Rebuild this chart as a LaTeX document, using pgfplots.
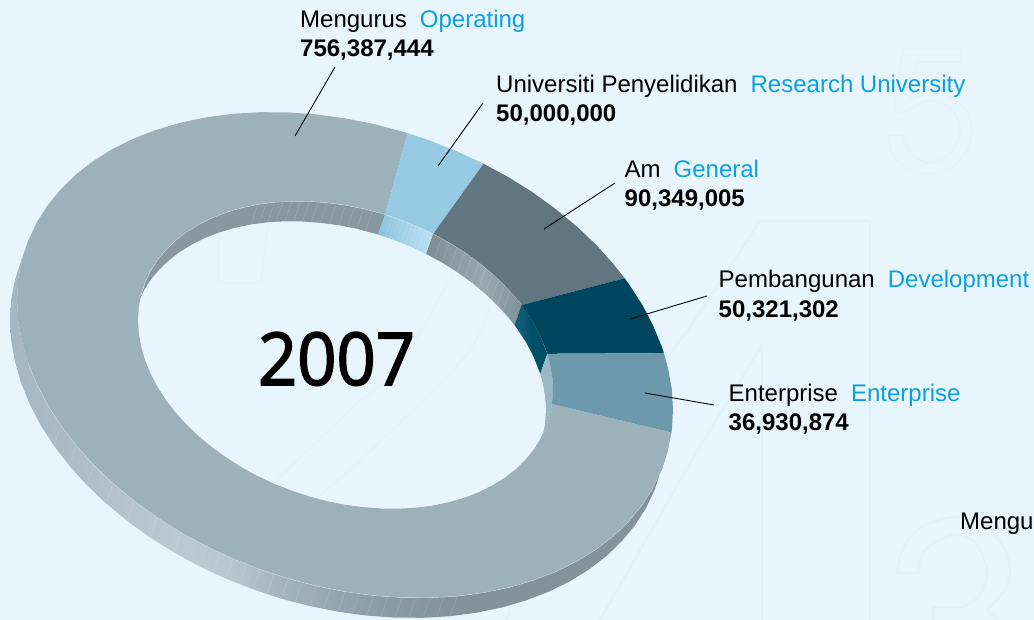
\documentclass[border=0pt]{standalone}
\usepackage{pgfplots}
\pgfplotsset{compat=1.18}
\usepackage{fontspec}
\setmainfont{Liberation Sans}
\newfontfamily\yearfont{Open Sans}[FakeBold=2.2]
\definecolor{bgc}{HTML}{E9F5FC}
\definecolor{digit}{HTML}{E2F2FB}
\definecolor{opc}{HTML}{9DB1BA}
\definecolor{resc}{HTML}{96CAE3}
\definecolor{genc}{HTML}{627681}
\definecolor{devc}{HTML}{01465F}
\definecolor{entc}{HTML}{6E98AB}
\definecolor{blu}{HTML}{0BA0E3}
\definecolor{a1}{HTML}{A5B7C1}\definecolor{a2}{HTML}{A9BAC4}\definecolor{a3}{HTML}{B5C4CE}\definecolor{a4}{HTML}{BBC9D2}\definecolor{a5}{HTML}{B8C6CF}\definecolor{a6}{HTML}{A4B5BF}\definecolor{a7}{HTML}{93A5AF}\definecolor{a8}{HTML}{8799A2}\definecolor{a9}{HTML}{82939C}
\definecolor{r1}{HTML}{8CC3DE}\definecolor{r2}{HTML}{BBE2F4}
\definecolor{g1}{HTML}{7B8C94}\definecolor{g2}{HTML}{99A9B1}\definecolor{g3}{HTML}{7E8F97}
\definecolor{d1}{HTML}{125B75}\definecolor{d2}{HTML}{01506A}
\pgfdeclarehorizontalshading{outerwall}{100bp}{color(0bp)=(a1);color(25bp)=(a1);color(28bp)=(a2);color(34bp)=(a3);color(38.7bp)=(a4);color(41.7bp)=(a5);color(45.5bp)=(a6);color(50bp)=(a7);color(54.6bp)=(a8);color(58.4bp)=(a9);color(100bp)=(a9)}
\pgfdeclarehorizontalshading{reswall}{100bp}{color(0bp)=(r1);color(25bp)=(r1);color(75bp)=(r2);color(100bp)=(r2)}
\pgfdeclarehorizontalshading{genwall}{100bp}{color(0bp)=(g1);color(25bp)=(g1);color(55bp)=(g2);color(75bp)=(g3);color(100bp)=(g3)}
\pgfdeclarehorizontalshading{devwall}{100bp}{color(0bp)=(d1);color(35bp)=(d1);color(50bp)=(d2);color(100bp)=(d2)}
\begin{document}
\begin{tikzpicture}[x=1bp,y=1bp]
\clip (0,0) rectangle (1034,620);
\fill[bgc] (0,0) rectangle (1034,620);
\begin{axis}[at={(0,0)},anchor=south west,scale only axis,width=1034bp,height=620bp,
  xmin=0,xmax=1034,ymin=0,ymax=620,y dir=reverse,hide axis,no markers,unbounded coords=jump]
% faint background digits
\addplot[digit,line width=1pt] coordinates {(903,49)(960,49)(960,62)(917,62)(910,100)};
\addplot[digit,line width=1pt] coordinates {(894,111)(903,49)};
\addplot[digit,line width=1pt] coordinates {(894,111)(903,114)};
\addplot[digit,line width=1pt] coordinates {(888,135)(902,135)};
\addplot[digit,line width=1pt,smooth] coordinates {(888,135)(893,155)(910,170)(930,174)(950,168)(966,152)(972,130)(966,110)(950,97)(930,93)(910,100)};
\addplot[digit,line width=1pt,smooth] coordinates {(902,135)(908,150)(920,160)(932,163)(948,155)(958,140)(960,125)(952,110)(935,101)(920,103)(903,114)};
\addplot[digit,line width=2.2pt] coordinates {(760,221)(870,221)(870,620) (nan,nan) (760,221)(690,327)(663,363) (nan,nan) (762,345)(762,620) (nan,nan) (762,345)(690,463)(600,620) (nan,nan) (510,612)(507,620)};
\addplot[digit,line width=2pt,smooth] coordinates {(897,573)(902,550)(920,528)(953,517)(985,525)(1005,550)(1010,570)(1005,590)(987,610)};
\addplot[digit,line width=2pt] coordinates {(987,610)(998,620)};
\addplot[digit,line width=2pt] coordinates {(897,573)(918,573)};
\addplot[digit,line width=2pt,smooth] coordinates {(918,573)(925,550)(953,535)(975,542)(987,570)(980,595)(963,607)};
\addplot[digit,line width=2pt] coordinates {(963,607)(933,607)(933,620)};
\addplot[digit,line width=1pt] coordinates {(268,223)(261,283)(218,283)(218,233)};
\addplot[digit,line width=1pt,smooth] coordinates {(277,480)(350,410)(400,365)(453,273)};
\addplot[digit,line width=1pt,smooth] coordinates {(317,497)(350,470)(423,400)(470,350)(490,307)};
% outer wall
\addplot[draw=none,shade,shading=outerwall] coordinates {(668,450.3)(661.8,469.4)(653.2,487.7)(642.3,504.8)(629,521)(613.7,535.9)(596.2,549.3)(576.9,561.3)(555.8,571.7)(533.1,580.4)(509,587.5)(483.6,592.7)(457.2,596.2)(429.9,597.8)(401.9,597.6)(373.6,595.6)(345,591.7)(316.4,586)(288.1,578.6)(260.1,569.4)(232.8,558.6)(206.4,546.3)(181,532.5)(156.9,517.4)(134.2,500.9)(113.1,483.5)(93.8,465.1)(76.3,445.7)(61,425.8)(47.7,405.2)(36.8,384.3)(28.2,363.2)(22,341.9)(18.2,320.8)(17,300)(18.2,279.6)(22,259.7)(28.2,240.6)
(21.2,260.6)(15,279.7)(11.2,299.6)(10,320)(11.2,340.8)(15,361.9)(21.2,383.2)(29.8,404.3)(40.7,425.2)(54,445.8)(69.3,465.7)(86.8,485.1)(106.1,503.5)(127.2,520.9)(149.9,537.4)(174,552.5)(199.4,566.3)(225.8,578.6)(253.1,589.4)(281.1,598.6)(309.4,606)(338,611.7)(366.6,615.6)(394.9,617.6)(422.9,617.8)(450.2,616.2)(476.6,612.7)(502,607.5)(526.1,600.4)(548.8,591.7)(569.9,581.3)(589.2,569.3)(606.7,555.9)(622,541)(635.3,524.8)(646.2,507.7)(654.8,489.4)(661,470.3)};
% outer wall hatching
\addplot[white,opacity=.2,line width=.4pt] coordinates {(457.2,596.2)(450.2,616.2)(nan,nan)(443.6,597)(436.6,617)(nan,nan)(429.9,597.8)(422.9,617.8)(nan,nan)(415.9,597.7)(408.9,617.7)(nan,nan)(401.9,597.6)(394.9,617.6)(nan,nan)(387.8,596.6)(380.8,616.6)(nan,nan)(373.6,595.6)(366.6,615.6)(nan,nan)(359.3,593.7)(352.3,613.7)(nan,nan)(345,591.7)(338,611.7)(nan,nan)(330.7,588.9)(323.7,608.9)(nan,nan)(316.4,586)(309.4,606)(nan,nan)(302.3,582.3)(295.3,602.3)(nan,nan)(288.1,578.6)(281.1,598.6)(nan,nan)(274.1,574)(267.1,594)(nan,nan)(260.1,569.4)(253.1,589.4)(nan,nan)(246.5,564)(239.5,584)(nan,nan)(232.8,558.6)(225.8,578.6)(nan,nan)(219.6,552.5)(212.6,572.5)(nan,nan)(206.4,546.3)(199.4,566.3)(nan,nan)(181,532.5)(174,552.5)(nan,nan)(156.9,517.4)(149.9,537.4)(nan,nan)(134.2,500.9)(127.2,520.9)(nan,nan)(113.1,483.5)(106.1,503.5)(nan,nan)(93.8,465.1)(86.8,485.1)(nan,nan)(76.3,445.7)(69.3,465.7)(nan,nan)(61,425.8)(54,445.8)};
% inner walls
\addplot[fill=a9!95!white,draw=none] coordinates {(141.2,294.7)(145.1,282.6)(150.5,271.1)(157.4,260.2)(165.8,250)(175.5,240.6)(186.6,232)(198.8,224.5)(212.1,217.9)(226.5,212.3)(241.7,207.9)(257.8,204.5)(274.5,202.3)(291.8,201.3)(309.5,201.5)(327.4,202.8)(345.5,205.2)(363.6,208.8)(381.5,213.5)(385.1,214.6)(378.1,234.6)(374.5,233.5)(356.6,228.8)(338.5,225.2)(320.4,222.8)(302.5,221.5)(284.8,221.3)(267.5,222.3)(250.8,224.5)(234.7,227.9)(219.5,232.3)(205.1,237.9)(191.8,244.5)(179.6,252)(168.5,260.6)(158.8,270)(150.4,280.2)(143.5,291.1)(138.1,302.6)(134.2,314.7)};
\addplot[draw=none,shade,shading=reswall] coordinates {(385.1,214.6)(399.2,219.3)(416.5,226.1)(433.2,233.9)(426.2,253.9)(409.5,246.1)(392.2,239.3)(378.1,234.6)};
\addplot[draw=none,shade,shading=genwall] coordinates {(433.2,233.9)(449.3,242.7)(464.5,252.3)(478.9,262.7)(492.2,273.7)(504.4,285.4)(515.5,297.6)(521.5,305.1)(514.5,325.1)(508.5,317.6)(497.4,305.4)(485.2,293.7)(471.9,282.7)(457.5,272.3)(442.3,262.7)(426.2,253.9)};
\addplot[draw=none,shade,shading=devwall] coordinates {(521.5,305.1)(525.2,310.2)(533.6,323.2)(540.5,336.5)(547.3,353.8)(540.3,373.8)(533.5,356.5)(526.6,343.2)(518.2,330.2)(514.5,325.1)};
\addplot[fill=entc!70!white,draw=none] coordinates {(547.3,353.8)(549.8,363.3)(552.2,376.6)(553,389.8)(552,404)(549.8,415.3)(545.9,427.4)(540.5,438.9)(533.5,458.9)(538.9,447.4)(542.8,435.3)(545,424)(546,409.8)(545.2,396.6)(542.8,383.3)(540.3,373.8)};
% inner wall hatching
\addplot[white,opacity=.2,line width=.4pt] coordinates {(257.8,204.5)(250.8,224.5)(nan,nan)(266.1,203.4)(259.1,223.4)(nan,nan)(274.5,202.3)(267.5,222.3)(nan,nan)(283.1,201.8)(276.1,221.8)(nan,nan)(291.8,201.3)(284.8,221.3)(nan,nan)(300.6,201.4)(293.6,221.4)(nan,nan)(309.5,201.5)(302.5,221.5)(nan,nan)(318.4,202.1)(311.4,222.1)(nan,nan)(327.4,202.8)(320.4,222.8)(nan,nan)(336.4,204)(329.4,224)(nan,nan)(345.5,205.2)(338.5,225.2)(nan,nan)(354.5,207)(347.5,227)(nan,nan)(363.6,208.8)(356.6,228.8)(nan,nan)(372.5,211.1)(365.5,231.1)(nan,nan)(392.2,217)(385.2,237)(nan,nan)(395.7,218.1)(388.7,238.1)(nan,nan)(399.2,219.3)(392.2,239.3)(nan,nan)(403.5,221)(396.5,241)(nan,nan)(407.9,222.7)(400.9,242.7)(nan,nan)(412.2,224.4)(405.2,244.4)(nan,nan)(416.5,226.1)(409.5,246.1)(nan,nan)(420.7,228)(413.7,248)(nan,nan)(424.9,230)(417.9,250)(nan,nan)(441.3,238.3)(434.3,258.3)(nan,nan)(449.3,242.7)(442.3,262.7)(nan,nan)(456.9,247.5)(449.9,267.5)(nan,nan)(464.5,252.3)(457.5,272.3)(nan,nan)(471.7,257.5)(464.7,277.5)(nan,nan)(478.9,262.7)(471.9,282.7)(nan,nan)(485.6,268.2)(478.6,288.2)(nan,nan)(492.2,273.7)(485.2,293.7)(nan,nan)(498.3,279.5)(491.3,299.5)(nan,nan)(504.4,285.4)(497.4,305.4)(nan,nan)(510,291.5)(503,311.5)};
% top faces
\addplot[fill=opc,draw=none] coordinates {(671.5,432.4)(668,450.3)(661.8,469.4)(653.2,487.7)(642.3,504.8)(629,521)(613.7,535.9)(596.2,549.3)(576.9,561.3)(555.8,571.7)(533.1,580.4)(509,587.5)(483.6,592.7)(457.2,596.2)(429.9,597.8)(401.9,597.6)(373.6,595.6)(345,591.7)(316.4,586)(288.1,578.6)(260.1,569.4)(232.8,558.6)(206.4,546.3)(181,532.5)(156.9,517.4)(134.2,500.9)(113.1,483.5)(93.8,465.1)(76.3,445.7)(61,425.8)(47.7,405.2)(36.8,384.3)(28.2,363.2)(22,341.9)(18.2,320.8)(17,300)(18.2,279.6)(22,259.7)(28.2,240.6)(36.8,222.3)(47.7,205.2)(61,189)(76.3,174.1)(93.8,160.7)(113.1,148.7)(134.2,138.3)(156.9,129.6)(181,122.5)(206.4,117.3)(232.8,113.8)(260.1,112.2)(288.1,112.4)(316.4,114.4)(345,118.3)(373.6,124)(401.9,131.4)(407.6,133.2)
(385.1,214.6)(381.5,213.5)(363.6,208.8)(345.5,205.2)(327.4,202.8)(309.5,201.5)(291.8,201.3)(274.5,202.3)(257.8,204.5)(241.7,207.9)(226.5,212.3)(212.1,217.9)(198.8,224.5)(186.6,232)(175.5,240.6)(165.8,250)(157.4,260.2)(150.5,271.1)(145.1,282.6)(141.2,294.7)(138.8,307.2)(138,320.2)(138.8,333.4)(141.2,346.7)(145.1,360.2)(150.5,373.5)(157.4,386.8)(165.8,399.8)(175.5,412.4)(186.6,424.6)(198.8,436.3)(212.1,447.3)(226.5,457.7)(241.7,467.3)(257.8,476.1)(274.5,483.9)(291.8,490.7)(309.5,496.5)(327.4,501.2)(345.5,504.8)(363.6,507.2)(381.5,508.5)(399.2,508.7)(416.5,507.7)(433.2,505.5)(449.3,502.1)(464.5,497.7)(478.9,492.1)(492.2,485.5)(504.4,478)(515.5,469.4)(525.2,460)(533.6,449.8)(540.5,438.9)(545.9,427.4)(549.8,415.3)(552,404)};
\addplot[fill=resc,draw=none] coordinates {(407.6,133.2)(429.9,140.6)(457.2,151.4)(483.6,163.7)(433.2,233.9)(416.5,226.1)(399.2,219.3)(385.1,214.6)};
\addplot[fill=genc,draw=none] coordinates {(483.6,163.7)(509,177.5)(533.1,192.6)(555.8,209.1)(576.9,226.5)(596.2,244.9)(613.7,264.3)(624.7,278.2)(521.5,305.1)(515.5,297.6)(504.4,285.4)(492.2,273.7)(478.9,262.7)(464.5,252.3)(449.3,242.7)(433.2,233.9)};
\addplot[fill=devc,draw=none] coordinates {(624.7,278.2)(629,284.2)(642.3,304.8)(653.2,325.7)(661.8,346.8)(663.9,353.2)(547.3,353.8)(545.9,349.8)(540.5,336.5)(533.6,323.2)(525.2,310.2)(521.5,305.1)};
\addplot[fill=entc,draw=none] coordinates {(663.9,353.2)(668,368.1)(671.8,389.2)(673,410)(671.8,430.4)(671.5,432.4)(552,404)(553,389.8)(552.2,376.6)(549.8,363.3)(547.3,353.8)};
% highlight edges
\addplot[white,opacity=.45,line width=.4pt] coordinates {(653.2,487.7)(642.3,504.8)(629,521)(613.7,535.9)(596.2,549.3)(576.9,561.3)(555.8,571.7)(533.1,580.4)(509,587.5)(483.6,592.7)(457.2,596.2)(429.9,597.8)(401.9,597.6)(373.6,595.6)(345,591.7)(316.4,586)(288.1,578.6)(260.1,569.4)(232.8,558.6)(206.4,546.3)(181,532.5)(156.9,517.4)(134.2,500.9)(113.1,483.5)(93.8,465.1)(76.3,445.7)(61,425.8)(47.7,405.2)(36.8,384.3)(28.2,363.2)};
\addplot[white,opacity=.45,line width=.4pt] coordinates {(141.2,294.7)(145.1,282.6)(150.5,271.1)(157.4,260.2)(165.8,250)(175.5,240.6)(186.6,232)(198.8,224.5)(212.1,217.9)(226.5,212.3)(241.7,207.9)(257.8,204.5)(274.5,202.3)(291.8,201.3)(309.5,201.5)(327.4,202.8)(345.5,205.2)(363.6,208.8)(381.5,213.5)(399.2,219.3)(416.5,226.1)(433.2,233.9)(449.3,242.7)(464.5,252.3)(478.9,262.7)(492.2,273.7)(504.4,285.4)(515.5,297.6)(521.5,305.1)};
% leader lines
\addplot[black,line width=.9pt] coordinates {(335,67)(295,136)};
\addplot[black,line width=.9pt] coordinates {(483,103)(438,166)};
\addplot[black,line width=.9pt] coordinates {(615,183)(544,229)};
\addplot[black,line width=.9pt] coordinates {(707,296)(630,319)};
\addplot[black,line width=.9pt] coordinates {(714,405)(645,393)};
% labels
\newcommand{\lab}[5]{%
 \node[anchor=base west,inner sep=0pt,font=\fontsize{24bp}{24bp}\selectfont] at (axis cs:#1,#2) {#3\hspace{13bp}\textcolor{blu}{#4}};
 \node[anchor=base west,inner sep=0pt,font=\fontsize{24bp}{24bp}\selectfont\bfseries] at (axis cs:#1,#2+29) {#5};}
\lab{300}{28}{Mengurus}{Operating}{756,387,444}
\lab{496}{93}{Universiti Penyelidikan}{Research University}{50,000,000}
\lab{624.5}{178}{Am}{General}{90,349,005}
\lab{718.5}{288}{Pembangunan}{Development}{50,321,302}
\lab{728.5}{401}{Enterprise}{Enterprise}{36,930,874}
\node[anchor=base west,inner sep=0pt,font=\fontsize{24bp}{24bp}\selectfont] at (axis cs:960,529) {Mengu};
\node[anchor=base,inner sep=0pt,font=\fontsize{73bp}{73bp}\yearfont] at (axis cs:336.5,385) {\scalebox{.94}[1]{2007}};
\end{axis}
\end{tikzpicture}
\end{document}
